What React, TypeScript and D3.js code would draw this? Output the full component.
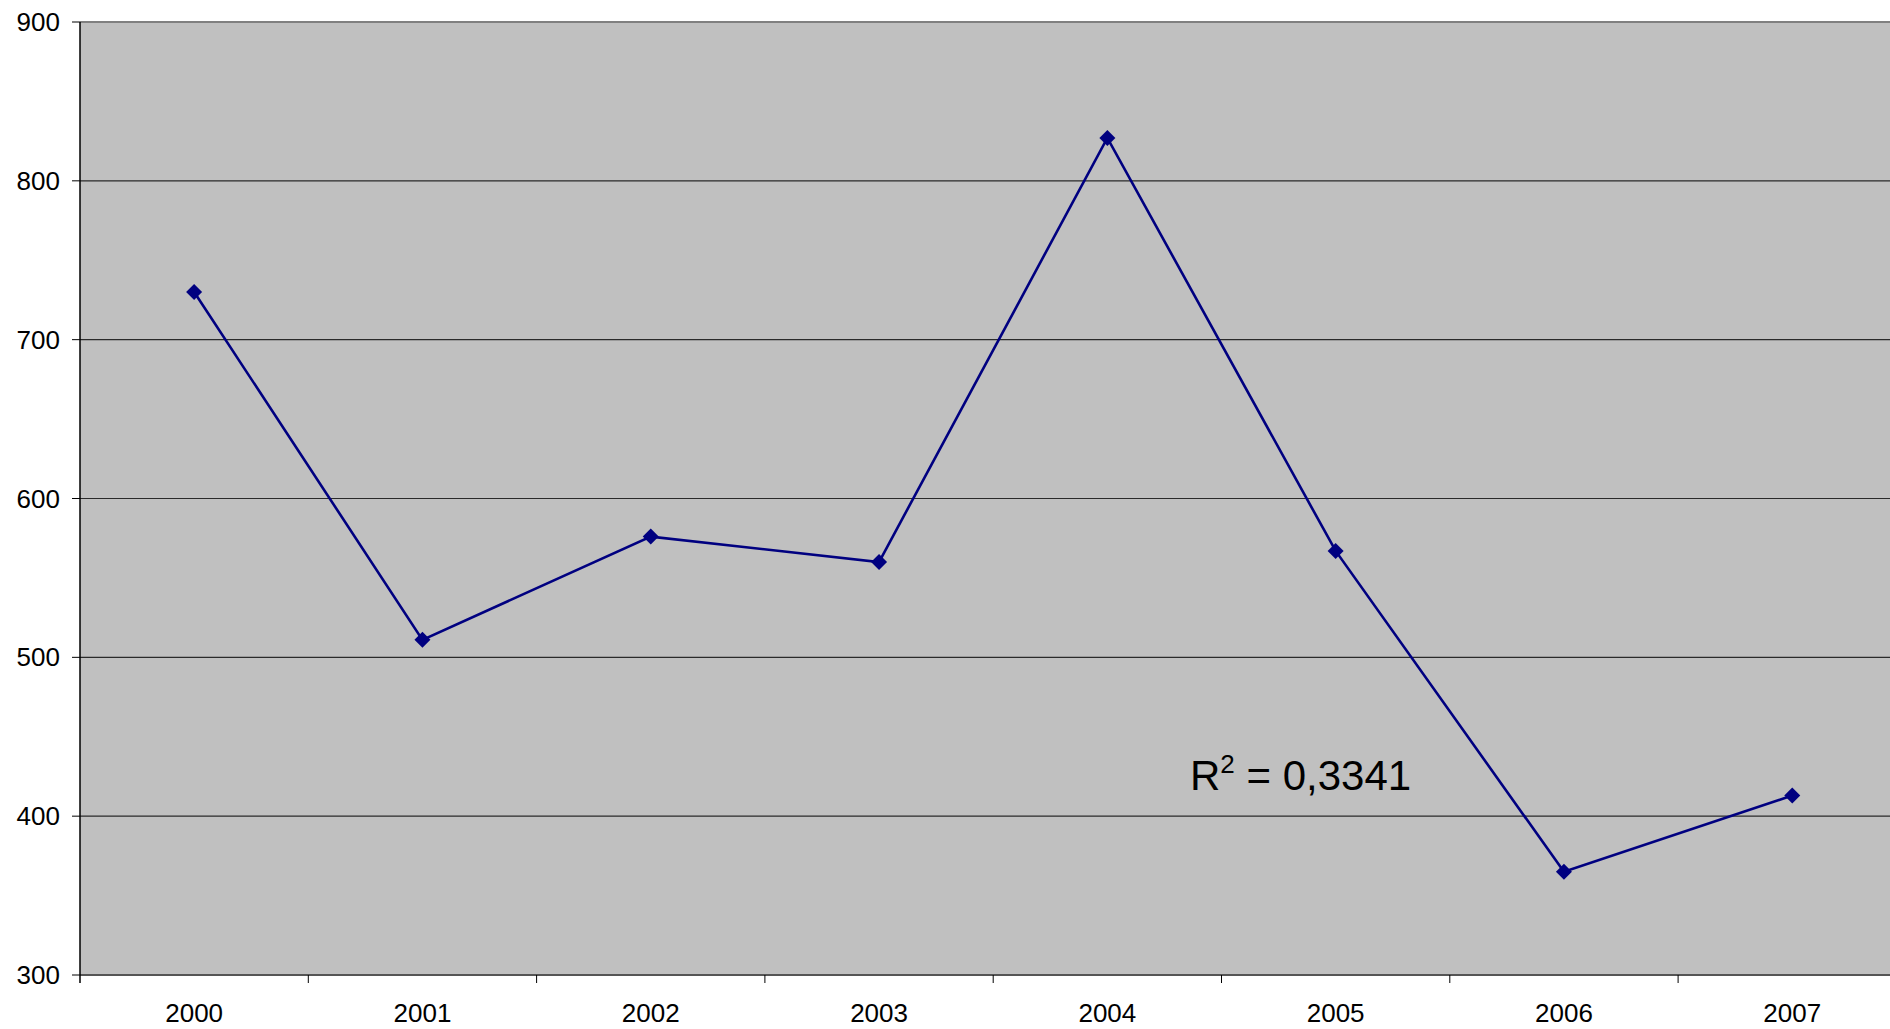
import React from "react";
import * as d3 from "d3";

const years = ["2000", "2001", "2002", "2003", "2004", "2005", "2006", "2007"];
const values = [730, 511, 576, 560, 827, 567, 365, 413];
const yTicks = [300, 400, 500, 600, 700, 800, 900];
const rSquaredLabel = "0,3341";

const W = 1890;
const H = 1029;
const left = 80;
const top = 22;
const bottom = 975;
const band = 228.3;

export default function App() {
  const x = d3.scaleBand<string>().domain(years).range([left, left + band * years.length]);
  const y = d3.scaleLinear().domain([300, 900]).range([bottom, top]);
  const line = d3
    .line<number>()
    .x((_, i) => (x(years[i]) as number) + x.bandwidth() / 2)
    .y((d) => y(d));
  const font = "'Liberation Sans', Arial, sans-serif";
  const plotRight = W;
  return (
    <svg width={W} height={H} style={{ position: "absolute", left: 0, top: 0 }} fontFamily={font}>
      <rect x={0} y={0} width={W} height={H} fill="#fff" />
      <rect x={left} y={top} width={plotRight - left} height={bottom - top} fill="#C0C0C0" />
      {yTicks.filter((t) => t !== 300 && t !== 900).map((t) => (
        <line key={t} x1={left} x2={plotRight} y1={y(t)} y2={y(t)} stroke="#2a2a2a" strokeWidth={1.2} />
      ))}
      <line x1={left} x2={plotRight} y1={y(900)} y2={y(900)} stroke="#808080" strokeWidth={2} />
      <line x1={left} x2={plotRight} y1={y(300)} y2={y(300)} stroke="#555" strokeWidth={2} />
      <line x1={left} x2={left} y1={top} y2={bottom + 8} stroke="#000" strokeWidth={1.5} />
      {yTicks.map((t) => (
        <g key={t}>
          <line x1={left - 8} x2={left} y1={y(t)} y2={y(t)} stroke="#000" strokeWidth={1} />
          <text x={left - 20} y={y(t)} dy="0.35em" textAnchor="end" fontSize={26} fill="#000">
            {t}
          </text>
        </g>
      ))}
      {years.map((yr) => (
        <line
          key={"t" + yr}
          x1={(x(yr) as number) + x.bandwidth()}
          x2={(x(yr) as number) + x.bandwidth()}
          y1={bottom}
          y2={bottom + 8}
          stroke="#000"
          strokeWidth={1}
        />
      ))}
      {years.map((yr) => (
        <text
          key={"l" + yr}
          x={(x(yr) as number) + x.bandwidth() / 2}
          y={1022}
          textAnchor="middle"
          fontSize={26}
          fill="#000"
        >
          {yr}
        </text>
      ))}
      <path d={line(values) || ""} fill="none" stroke="#000080" strokeWidth={2.6} />
      {values.map((v, i) => {
        const cx = (x(years[i]) as number) + x.bandwidth() / 2;
        const cy = y(v);
        const s = 8;
        return (
          <path
            key={"m" + i}
            d={`M${cx},${cy - s}L${cx + s},${cy}L${cx},${cy + s}L${cx - s},${cy}Z`}
            fill="#000080"
          />
        );
      })}
      <text x={1190} y={790} fontSize={42} fill="#000">
        R
        <tspan dy={-17} fontSize={26}>2</tspan>
        <tspan dy={17}>{" = " + rSquaredLabel}</tspan>
      </text>
    </svg>
  );
}
